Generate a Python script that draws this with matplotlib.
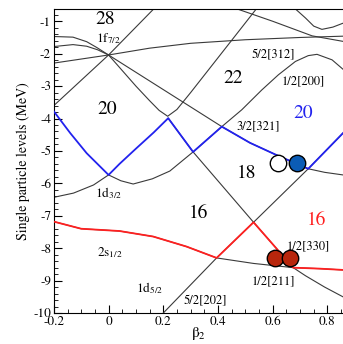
import matplotlib
matplotlib.use("Agg")
import matplotlib.pyplot as plt
from matplotlib.ticker import MultipleLocator, FixedLocator

plt.rcParams['font.family'] = ['STIXGeneral', 'DejaVu Serif']
plt.rcParams['mathtext.fontset'] = 'stix'

# ---- black single-particle orbitals (beta2, energy MeV) ----
o72_x = [-0.2, 0.0, 0.165]
o72_y = [-3.6, -2.04, -0.62]

o12f_x = [-0.2, -0.13, -0.08, -0.043, 0.0, 0.05, 0.1, 0.15, 0.185, 0.216, 0.25, 0.3, 0.408, 0.54]
o12f_y = [-1.47, -1.49, -1.63, -1.81, -2.04, -2.52, -3.0, -3.45, -3.75, -3.93, -3.72, -3.2, -2.04, -0.62]

o32_x = [-0.2, -0.13, -0.08, -0.04, 0.0, 0.414, 0.517, 0.62, 0.73, 0.79, 0.857]
o32_y = [-1.78, -1.72, -1.77, -1.88, -2.04, -4.25, -4.75, -5.15, -5.55, -5.66, -5.74]

o52_x = [-0.2, 0.0, 0.15, 0.3, 0.5, 0.7, 0.857]
o52_y = [-2.29, -2.04, -1.83, -1.68, -1.57, -1.5, -1.46]

o200_x = [-0.2, -0.128, -0.055, 0.0, 0.045, 0.09, 0.16, 0.224, 0.309, 0.414, 0.487, 0.56, 0.621, 0.683, 0.73, 0.762, 0.817, 0.857]
o200_y = [-6.43, -6.3, -6.05, -5.74, -5.92, -6.02, -5.86, -5.62, -5.03, -4.25, -3.73, -3.12, -2.65, -2.24, -2.06, -2.02, -2.19, -2.48]

o330_x = [0.218, 0.309, 0.53, 0.675, 0.72, 0.79, 0.857]
o330_y = [-3.99, -5.03, -7.2, -8.6, -8.85, -9.2, -9.5]

o202_x = [0.2, 0.395, 0.53, 0.73, 0.857]
o202_y = [-10.0, -8.3, -7.2, -5.55, -4.45]

o211_x = [-0.2, -0.1, 0.04, 0.163, 0.285, 0.395, 0.53, 0.675, 0.77, 0.857]
o211_y = [-7.18, -7.4, -7.47, -7.64, -7.95, -8.3, -8.47, -8.6, -8.63, -8.67]

otop1_x = [0.47, 0.6, 0.744, 0.857]
otop1_y = [-0.62, -1.0, -1.45, -1.62]

otop2_x = [0.683, 0.72, 0.75, 0.78, 0.82, 0.857]
otop2_y = [-0.62, -0.9, -1.15, -1.25, -1.18, -1.06]

# ---- highlighted level paths ----
blue_x = [-0.2, -0.14, -0.08, 0.0, 0.04, 0.1, 0.165, 0.218, 0.309, 0.414, 0.517, 0.62, 0.73, 0.857]
blue_y = [-3.78, -4.45, -5.07, -5.74, -5.4, -4.93, -4.43, -3.99, -5.03, -4.25, -4.75, -5.15, -5.55, -4.45]

red_x = [-0.2, -0.1, 0.04, 0.163, 0.285, 0.395, 0.53, 0.675, 0.77, 0.857]
red_y = [-7.18, -7.4, -7.47, -7.64, -7.95, -8.3, -7.2, -8.6, -8.63, -8.67]

# ---- markers ----
circ_x = [0.621, 0.689, 0.609, 0.664]
circ_y = [-5.38, -5.38, -8.31, -8.31]
circ_c = ['white', '#0b5cb5', '#b8260c', '#b8260c']

# ---- labels ----
lab_text = ['28', '1f$_{7/2}$', '20', '22', '5/2[312]', '1/2[200]', '3/2[321]', '18',
            '1d$_{3/2}$', '16', '1/2[330]', '1/2[211]', '2s$_{1/2}$', '1d$_{5/2}$', '5/2[202]']
lab_x = [-0.012, 0.0, -0.006, 0.456, 0.602, 0.712, 0.548, 0.505, 0.0, 0.328, 0.731, 0.603, 0.004, 0.15, 0.352]
lab_y = [-0.93, -1.52, -3.73, -2.76, -2.04, -2.86, -4.25, -5.7, -6.3, -6.92, -7.95, -9.03, -8.15, -9.24, -9.65]
lab_size = [14, 9.5, 14, 14, 9, 9, 9, 14, 9.5, 14, 9, 9, 9.5, 9.5, 9]

fig = plt.figure(figsize=(3.43, 3.44), dpi=100)
ax = fig.add_axes([0.157, 0.090, 0.843, 0.884])

kc = '#3a3a3a'
for xs, ys in [(o72_x, o72_y), (o12f_x, o12f_y), (o32_x, o32_y), (o52_x, o52_y),
               (o200_x, o200_y), (o330_x, o330_y), (o202_x, o202_y), (o211_x, o211_y),
               (otop1_x, otop1_y), (otop2_x, otop2_y)]:
    ax.plot(xs, ys, color=kc, lw=0.8, zorder=2)

ax.plot(blue_x, blue_y, color='#2222ee', lw=1.3, zorder=3)
ax.plot(red_x, red_y, color='#ff2020', lw=1.3, zorder=3)

for i in range(len(circ_x)):
    ax.scatter([circ_x[i]], [circ_y[i]], s=140, facecolor=circ_c[i], edgecolor='black',
               linewidths=1.0, zorder=5 + i)

for t, x, y, s in zip(lab_text, lab_x, lab_y, lab_size):
    ax.text(x, y, t, fontsize=s, ha='center', va='center', zorder=6)
ax.text(0.712, -3.83, '20', fontsize=14, color='#2222ee', ha='center', va='center')
ax.text(0.762, -7.13, '16', fontsize=14, color='#ff2020', ha='center', va='center')

ax.set_xlim(-0.2, 0.857)
ax.set_ylim(-10, -0.62)
ax.spines['right'].set_visible(False)
ax.xaxis.set_major_locator(FixedLocator([-0.2, 0, 0.2, 0.4, 0.6, 0.8]))
ax.xaxis.set_minor_locator(MultipleLocator(0.05))
ax.yaxis.set_major_locator(MultipleLocator(1))
ax.yaxis.set_minor_locator(MultipleLocator(0.2))
ax.set_xticklabels(['-0.2', '0', '0.2', '0.4', '0.6', '0.8'])
ax.set_yticks(range(-10, 0))
ax.set_yticklabels([str(v) for v in range(-10, 0)])
ax.tick_params(which='both', direction='in', top=False, right=False, labelsize=9.5)
ax.tick_params(which='major', length=6, width=0.8, pad=2)
ax.tick_params(which='minor', length=3, width=0.6)
ax.set_xlabel('β$_2$', fontsize=11, labelpad=-2)
ax.set_ylabel('Single particle levels (MeV)', fontsize=10, labelpad=2)

fig.savefig('out.png', dpi=100)
